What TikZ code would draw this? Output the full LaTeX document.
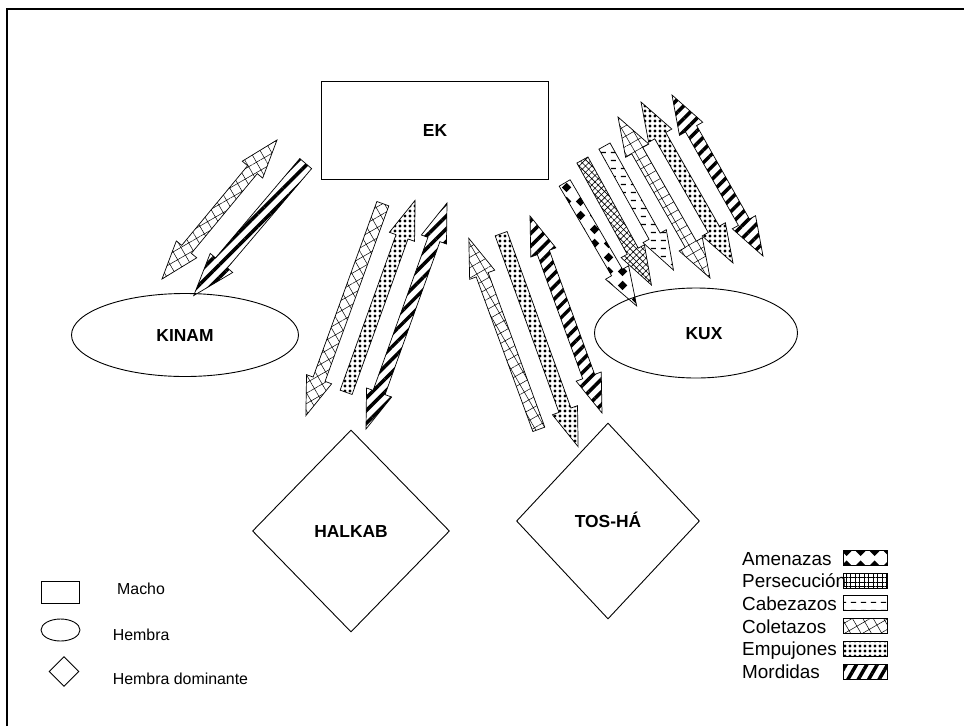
\documentclass[tikz,border=0pt]{standalone}
\usepackage{fontspec}
\setmainfont{Liberation Sans}
\usetikzlibrary{calc,shapes.geometric,shapes.arrows,patterns,patterns.meta}

%% motivos de relleno propios
\pgfdeclarepatternformonly{rombos}{\pgfpointorigin}{\pgfpoint{14pt}{14pt}}{\pgfpoint{14pt}{14pt}}{%
  \pgfpathmoveto{\pgfpoint{7pt}{2pt}}
  \pgfpathlineto{\pgfpoint{12pt}{7pt}}
  \pgfpathlineto{\pgfpoint{7pt}{12pt}}
  \pgfpathlineto{\pgfpoint{2pt}{7pt}}
  \pgfpathclose
  \pgfusepath{fill}}
\pgfdeclarepatternformonly{guiones}{\pgfpointorigin}{\pgfpoint{10pt}{7.5pt}}{\pgfpoint{10pt}{7.5pt}}{%
  \pgfsetlinewidth{1.2pt}
  \pgfpathmoveto{\pgfpoint{1pt}{3.75pt}}
  \pgfpathlineto{\pgfpoint{6.5pt}{3.75pt}}
  \pgfusepath{stroke}}

%% flecha gruesa: nombre, forma, relleno, desde, hasta
\newcommand{\flecha}[5]{%
  \path let \p1=($(#5)-(#4)$), \n1={atan2(\y1,\x1)}, \n2={veclen(\x1,\y1)} in
    node[#2, #3, rotate=\n1, minimum height=\n2] (#1) at ($(#4)!.5!(#5)$) {};}

\tikzset{
  macho/.style={draw, line width=.9pt, rectangle, inner sep=0pt},
  hembra/.style={draw, line width=.9pt, ellipse, inner sep=0pt},
  dominante/.style={draw, line width=.9pt, diamond, inner sep=0pt},
  nombre/.style={font=\fontsize{17.4}{20}\selectfont\bfseries, text height=12.5pt, text depth=0pt},
  texto/.style={anchor=base west, inner sep=0pt, font=\fontsize{#1}{#1}\selectfont},
  una/.style={single arrow, draw, line width=.7pt, inner sep=6pt, minimum width=0pt,
    single arrow head extend=7pt, single arrow tip angle=38},
  dos/.style={double arrow, draw, line width=.7pt, inner sep=6pt, minimum width=0pt,
    double arrow head extend=7pt, double arrow tip angle=38},
  amenaza/.style={pattern=rombos},
  persecucion/.style={pattern={Hatch[angle=#1,distance=4.5pt,line width=.6pt]}},
  persecucion/.default=45,
  cabezazo/.style={pattern=guiones},
  coletazo/.style={pattern={Hatch[angle=30,distance=9pt,line width=.5pt]}},
  empujon/.style={pattern={Dots[radius=1.6pt,distance=5pt]}},
  mordida/.style={pattern={Lines[angle=#1,distance=9pt,line width=3.5pt]}},
  mordida/.default=45,
  caja/.style={draw, line width=.9pt, minimum width=44pt, minimum height=15pt, inner sep=0pt},
}

\begin{document}
\begin{tikzpicture}[x=1pt,y=-1pt]
    \useasboundingbox (0,0) rectangle (964,726);
    %% marco
    \draw[line width=2pt] (7,726) -- (7,9) -- (964,9);
    %% individuos
    \node[macho, nombre, minimum width=227, minimum height=98] (ek) at (435,130) {EK};
    \node[hembra, nombre, minimum width=227, minimum height=83] (kinam) at (185,335) {KINAM};
    \node[hembra, nombre, minimum width=203, minimum height=90] (kux) at (696,333) {\hspace*{16pt}KUX};
    \node[dominante, nombre, minimum width=197, minimum height=202] (halkab) at (351,531) {HALKAB};
    \node[dominante, nombre, minimum width=183, minimum height=196] (tosha) at (608,521) {TOS-HÁ};
    %% extremos de las flechas
    \coordinate (a1) at (277,140); \coordinate (a1') at (162,279);
    \coordinate (a2) at (313,155); \coordinate (a2') at (201,287);
    \coordinate (b1) at (386,195); \coordinate (b1') at (309,407);
    \coordinate (b2) at (343,401); \coordinate (b2') at (412,209);
    \coordinate (b3) at (447,203); \coordinate (b3') at (366,429);
    \coordinate (c1) at (542,438); \coordinate (c1') at (472,247);
    \coordinate (c2) at (498,225); \coordinate (c2') at (575,438);
    \coordinate (c3) at (530,216); \coordinate (c3') at (602,413);
    \coordinate (d1) at (560,175); \coordinate (d1') at (632,298);
    \coordinate (d2) at (578,152); \coordinate (d2') at (647,277);
    \coordinate (d3) at (600,138); \coordinate (d3') at (669,262);
    \coordinate (d4) at (618,117); \coordinate (d4') at (710,278);
    \coordinate (d5) at (641,102); \coordinate (d5') at (733,263);
    \coordinate (d6) at (672,95);  \coordinate (d6') at (763,256);
    %% EK - KINAM
    \flecha{fa1}{dos}{coletazo}{a1}{a1'}
    \flecha{fa2}{una}{mordida}{a2}{a2'}
    %% EK - HALKAB
    \flecha{fb1}{una}{coletazo}{b1}{b1'}
    \flecha{fb2}{una}{empujon}{b2}{b2'}
    \flecha{fb3}{dos}{mordida}{b3}{b3'}
    %% EK - TOS-HA
    \flecha{fc1}{una}{coletazo}{c1}{c1'}
    \flecha{fc2}{una}{empujon}{c2}{c2'}
    \flecha{fc3}{dos}{mordida}{c3}{c3'}
    %% EK - KUX
    \flecha{fd1}{una}{amenaza}{d1}{d1'}
    \flecha{fd2}{una}{persecucion}{d2}{d2'}
    \flecha{fd3}{una}{cabezazo}{d3}{d3'}
    \flecha{fd4}{dos}{coletazo}{d4}{d4'}
    \flecha{fd5}{dos}{empujon}{d5}{d5'}
    \flecha{fd6}{dos}{mordida}{d6}{d6'}
    %% leyenda de formas
    \node[macho, minimum width=38, minimum height=22] (lmacho) at (60,592) {};
    \node[hembra, minimum width=39, minimum height=22] (lhembra) at (60.5,630) {};
    \node[dominante, minimum width=30, minimum height=30] (ldom) at (64,671.5) {};
    \node[texto=15.9] (tmacho) at (117,594.3) {Macho};
    \node[texto=15.9] (thembra) at (112.7,640) {Hembra};
    \node[texto=15.9] (tdom) at (112.7,684) {Hembra dominante};
    %% leyenda de conductas
    \node[texto=18.9] (tam) at (742,565) {Amenazas};
    \node[texto=18.9] (tpe) at (742,587.7) {Persecución};
    \node[texto=18.9] (tca) at (742,610.4) {Cabezazos};
    \node[texto=18.9] (tco) at (742,633.1) {Coletazos};
    \node[texto=18.9] (tem) at (742,655.8) {Empujones};
    \node[texto=18.9] (tmo) at (742,678.5) {Mordidas};
    \node[caja, amenaza] (cam) at (865,558) {};
    \node[caja, persecucion=0] (cpe) at (865,580.7) {};
    \node[caja, cabezazo] (cca) at (865,603.4) {};
    \node[caja, coletazo] (cco) at (865,626.1) {};
    \node[caja, empujon] (cem) at (865,648.8) {};
    \node[caja, mordida=60] (cmo) at (865,671.5) {};
\end{tikzpicture}
\end{document}
